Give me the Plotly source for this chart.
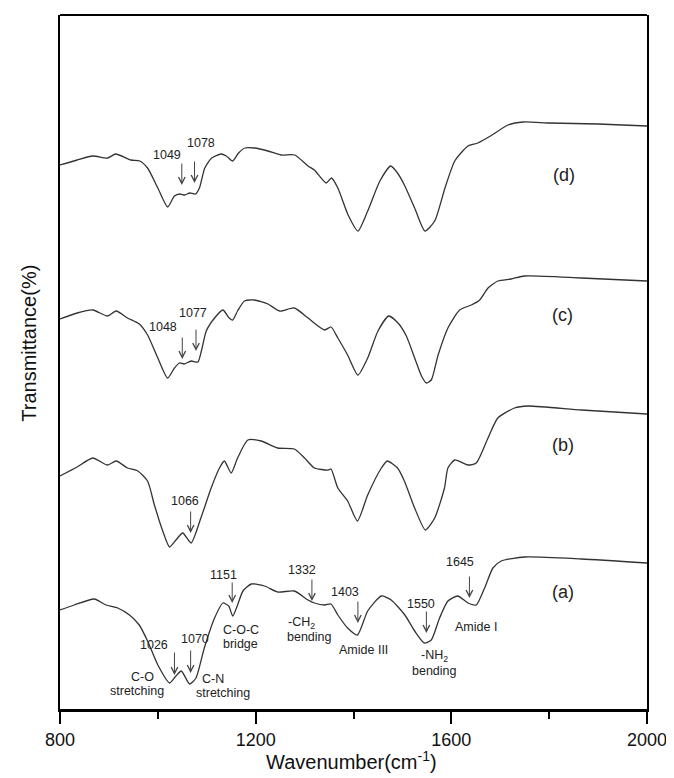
import plotly.graph_objects as go

# ---------------- data (offset transmittance, arbitrary units) ----------------
wn_a = [800, 829, 870, 894, 918, 942, 962, 979, 1000, 1024, 1037, 1048, 1065, 1078, 1095,
        1116, 1133, 1145, 1153, 1163, 1174, 1191, 1218, 1245, 1279, 1307, 1320, 1341, 1354,
        1368, 1388, 1408, 1429, 1457, 1477, 1505, 1525, 1545, 1559, 1576, 1593, 1613, 1634,
        1651, 1668, 1685, 1702, 1750, 1866, 2000]
t_a = [99, 104, 110, 104, 101, 94, 84, 68, 44, 26, 33, 38, 25, 31, 61,
       91, 106, 103, 93, 104, 118, 125, 123, 117, 118, 109, 106, 104, 105,
       94, 81, 74, 98, 113, 109, 94, 78, 66, 69, 91, 108, 113, 106,
       104, 121, 141, 148, 152, 150, 146]

wn_b = [800, 835, 867, 897, 915, 938, 959, 979, 993, 1010, 1024, 1037, 1051, 1068, 1088,
        1109, 1126, 1136, 1150, 1163, 1184, 1211, 1245, 1279, 1300, 1320, 1348, 1354, 1368,
        1388, 1408, 1429, 1457, 1469, 1490, 1504, 1525, 1547, 1566, 1586, 1593, 1607, 1634,
        1651, 1675, 1695, 1729, 1757, 1866, 2000]
t_b = [233, 242, 251, 244, 248, 241, 238, 228, 204, 178, 162, 169, 176, 166, 191,
       221, 241, 248, 236, 251, 269, 268, 261, 260, 251, 241, 239, 240, 221,
       208, 188, 214, 241, 248, 241, 228, 201, 179, 191, 221, 241, 249, 244,
       246, 271, 291, 301, 303, 299, 295]

wn_c = [800, 835, 867, 897, 915, 938, 962, 979, 1000, 1020, 1034, 1044, 1054, 1068, 1082,
        1089, 1099, 1116, 1133, 1146, 1153, 1163, 1177, 1197, 1225, 1249, 1279, 1307, 1341,
        1354, 1368, 1388, 1409, 1429, 1450, 1472, 1491, 1508, 1525, 1539, 1549, 1559, 1573,
        1593, 1617, 1641, 1658, 1675, 1695, 1722, 1750, 1866, 2000]
t_c = [390, 396, 399, 393, 398, 391, 385, 374, 351, 331, 341, 346, 345, 348, 347,
       358, 378, 391, 399, 391, 389, 398, 408, 409, 405, 398, 401, 391, 379,
       382, 371, 354, 334, 351, 378, 393, 386, 373, 351, 333, 326, 329, 354,
       381, 399, 404, 409, 421, 428, 430, 433, 431, 428]

wn_d = [800, 835, 867, 897, 914, 945, 963, 979, 1000, 1020, 1034, 1045, 1055, 1065, 1077,
        1085, 1096, 1110, 1129, 1140, 1153, 1165, 1178, 1198, 1225, 1252, 1280, 1307, 1320,
        1344, 1355, 1368, 1389, 1409, 1429, 1454, 1476, 1490, 1504, 1525, 1546, 1566, 1587,
        1607, 1634, 1654, 1680, 1716, 1747, 1800, 1900, 2000]
t_d = [544, 549, 553, 551, 555, 549, 548, 541, 521, 502, 513, 515, 514, 516, 515,
       521, 541, 551, 555, 553, 548, 556, 561, 561, 558, 554, 554, 543, 539,
       526, 531, 521, 494, 478, 498, 528, 543, 536, 524, 501, 478, 488, 521,
       548, 563, 566, 573, 584, 587, 586, 585, 583]

series_names = ["(a)", "(b)", "(c)", "(d)"]
series_label_wn = [1828, 1828, 1828, 1830]
series_label_t = [117, 264, 394, 534]

# peak markers: arrow position, arrow tail / tip heights, label text & position
arrow_wn = [1049, 1075, 1050, 1078, 1067, 1034, 1067, 1152, 1315, 1409, 1549, 1637]
arrow_tail = [547, 549, 373, 381, 199, 58, 60, 128, 131, 109, 99, 134]
arrow_tip = [524, 526, 350, 358, 176, 34, 36, 106, 108, 86, 76, 111]
peak_text = ["1049", "1078", "1048", "1077", "1066", "1026", "1070", "1151", "1332",
             "1403", "1550", "1645"]
peak_text_wn = [1018, 1088, 1010, 1071, 1056, 992, 1075, 1135, 1295, 1382, 1537, 1618]
peak_text_t = [554, 566, 382, 396, 208, 64, 70, 134, 139, 117, 105, 147]

band_text = ["C-O", "stretching", "C-N", "stretching", "C-O-C", "bridge",
             "-CH<sub>2</sub>", "bending", "Amide III", "-NH<sub>2</sub>", "bending", "Amide I"]
band_text_wn = [969, 957, 1112, 1133, 1170, 1169, 1294, 1310, 1421, 1566, 1566, 1651]
band_text_t = [32, 18, 30, 16, 79, 65, 86, 72, 59, 53, 38, 82]

x_ticks = [800, 1200, 1600, 2000]

# ---------------- figure ----------------
FONT = "Liberation Sans, Arial, Helvetica, sans-serif"
LINE = "#333333"

fig = go.Figure()
for wn, t in [(wn_a, t_a), (wn_b, t_b), (wn_c, t_c), (wn_d, t_d)]:
    fig.add_trace(go.Scatter(x=wn, y=t, mode="lines",
                             line=dict(color=LINE, width=1.3, shape="spline", smoothing=0.6),
                             hoverinfo="skip", showlegend=False))

ann = []
for name, xw, yt in zip(series_names, series_label_wn, series_label_t):
    ann.append(dict(x=xw, y=yt, xref="x", yref="y", text=name, showarrow=False,
                    xanchor="center", yanchor="middle",
                    font=dict(family=FONT, size=18, color="#222")))
for xw, ta, tp in zip(arrow_wn, arrow_tail, arrow_tip):
    ann.append(dict(x=xw, y=tp, ax=xw, ay=ta, xref="x", yref="y", axref="x", ayref="y",
                    text="", showarrow=True, arrowhead=5, arrowsize=1.3, arrowwidth=1,
                    arrowcolor="#444"))
for txt, xw, yt in zip(peak_text, peak_text_wn, peak_text_t):
    ann.append(dict(x=xw, y=yt, xref="x", yref="y", text=txt, showarrow=False,
                    xanchor="center", yanchor="middle",
                    font=dict(family=FONT, size=12.5, color="#222")))
for txt, xw, yt in zip(band_text, band_text_wn, band_text_t):
    ann.append(dict(x=xw, y=yt, xref="x", yref="y", text=txt, showarrow=False,
                    xanchor="center", yanchor="middle",
                    font=dict(family=FONT, size=12.5, color="#222")))

# axis titles
ann.append(dict(x=0.497, y=-0.094, xref="paper", yref="paper",
                xanchor="center", yanchor="bottom", borderpad=0,
                text="Wavenumber(cm<sup>-1</sup>)", showarrow=False,
                font=dict(family=FONT, size=20, color="#111")))
ann.append(dict(x=-0.052, y=0.527, xref="paper", yref="paper", textangle=-90,
                xanchor="center", yanchor="middle",
                text="Transmittance(%)", showarrow=False,
                font=dict(family=FONT, size=20, color="#111")))

fig.update_layout(
    width=674, height=778,
    margin=dict(l=52, r=35, t=7, b=77),
    paper_bgcolor="white", plot_bgcolor="white",
    annotations=ann,
    shapes=[dict(type="line", xref="paper", yref="paper", x0=0, x1=1, y0=1, y1=1,
                 line=dict(color="black", width=2))],
    xaxis=dict(range=[800, 2000], tickvals=x_ticks, ticks="outside", ticklen=12,
               tickwidth=1.5, tickcolor="black", showgrid=False, zeroline=False,
               showline=True, linecolor="black", linewidth=3, mirror=False,
               tickfont=dict(family=FONT, size=18, color="#111"),
               minor=dict(tickvals=[1000, 1400, 1800], ticks="outside", ticklen=7,
                          tickwidth=1.5, tickcolor="black")),
    yaxis=dict(range=[0, 694], showticklabels=False, ticks="", showgrid=False,
               zeroline=False, showline=True, linecolor="black", linewidth=2, mirror=True),
)

fig.write_html("out.html")
